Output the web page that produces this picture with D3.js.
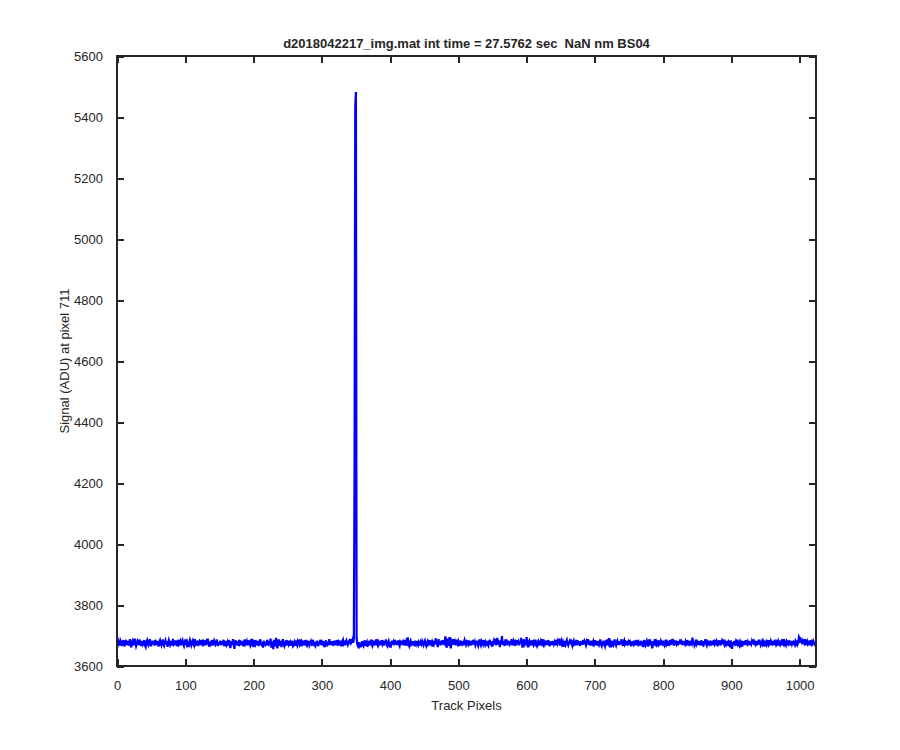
<!DOCTYPE html>
<html>
<head>
<meta charset="utf-8">
<script src="https://cdn.jsdelivr.net/npm/d3@7"></script>
<style>
  html, body { margin: 0; padding: 0; background: #fff; }
  svg { display: block; }
  text { font-family: "Liberation Sans", Arial, Helvetica, sans-serif; fill: #262626; }
</style>
</head>
<body>
<svg id="chart" width="900" height="750"></svg>
<script>
const titleText = "d2018042217_img.mat int time = 27.5762 sec  NaN nm BS04";
const xLabel = "Track Pixels";
const yLabel = "Signal (ADU) at pixel 711";
const xTicks = [0, 100, 200, 300, 400, 500, 600, 700, 800, 900, 1000];
const yTicks = [3600, 3800, 4000, 4200, 4400, 4600, 4800, 5000, 5200, 5400, 5600];
const xDomain = [0, 1024];
const yDomain = [3600, 5600];

const signal = [
3676,3670,3681,3674,3668,3683,3677,3666,3675,3685,3672,3664,3679,3686,3669,3675,3682,3667,3674,3688,3671,3661,3678,3683,3674,3668,3690,3676,3665,3672,3681,3675,
3669,3687,3679,3666,3674,3682,3671,3676,3685,3667,3662,3678,3684,3672,3668,3681,3688,3674,3665,3675,3683,3671,3679,3667,3686,3676,3669,3682,3672,3664,3678,3684,
3674,3668,3679,3687,3671,3666,3676,3683,3672,3681,3663,3674,3685,3678,3669,3675,3682,3667,3689,3672,3676,3668,3684,3674,3665,3679,3686,3671,3675,3681,3668,3676,
3683,3672,3666,3678,3687,3674,3669,3681,3676,3662,3671,3685,3679,3668,3675,3682,3672,3667,3688,3678,3671,3675,3683,3666,3674,3681,3676,3669,3686,3672,3665,3679,
3675,3684,3668,3678,3672,3690,3674,3664,3681,3671,3676,3685,3667,3675,3682,3672,3669,3679,3687,3674,3666,3678,3671,3683,3675,3668,3681,3674,3686,3665,3676,3672,
3682,3671,3678,3667,3685,3675,3659,3674,3681,3669,3688,3672,3656,3678,3684,3668,3675,3681,3666,3686,3672,3676,3669,3682,3674,3665,3679,3687,3671,3675,3681,3668,
3676,3684,3672,3667,3679,3674,3689,3669,3663,3678,3685,3671,3676,3668,3682,3674,3666,3681,3687,3672,3669,3678,3660,3683,3675,3671,3679,3667,3686,3676,3672,3681,
3668,3690,3660,3681,3672,3655,3686,3676,3665,3692,3669,3658,3679,3687,3667,3674,3682,3662,3678,3688,3671,3666,3681,3675,3685,3668,3676,3671,3683,3674,3667,3679,
3675,3669,3682,3672,3678,3666,3684,3674,3668,3681,3676,3671,3687,3672,3665,3679,3674,3683,3668,3676,3685,3671,3667,3678,3674,3682,3669,3675,3681,3672,3666,3686,
3676,3671,3679,3668,3675,3683,3672,3665,3681,3674,3686,3669,3676,3667,3682,3672,3678,3662,3684,3675,3671,3679,3668,3688,3674,3676,3669,3681,3672,3666,3683,3675,
3678,3668,3685,3674,3667,3679,3675,3683,3671,3664,3681,3686,3672,3676,3668,3679,3684,3674,3669,3678,3682,3672,3688,3675,3679,3686,3676,3690,4268,5432,5482,3692,
3671,3666,3678,3668,3675,3661,3674,3681,3669,3665,3676,3684,3667,3674,3679,3663,3672,3682,3668,3676,3686,3671,3666,3678,3674,3683,3668,3675,3688,3672,3667,3679,
3674,3682,3669,3678,3685,3671,3676,3667,3681,3674,3687,3669,3665,3676,3682,3672,3679,3660,3675,3683,3671,3678,3668,3686,3674,3681,3669,3676,3684,3672,3666,3679,
3675,3683,3671,3678,3668,3685,3674,3667,3681,3676,3694,3672,3666,3678,3683,3671,3675,3668,3681,3674,3665,3676,3671,3682,3674,3669,3679,3675,3667,3678,3672,3681,
3674,3668,3678,3683,3672,3666,3676,3681,3671,3675,3685,3668,3674,3679,3664,3676,3671,3682,3674,3691,3669,3678,3662,3688,3672,3681,3668,3675,3684,3671,3678,3685,
3668,3697,3672,3660,3690,3676,3666,3695,3674,3658,3683,3678,3669,3688,3672,3679,3668,3686,3675,3671,3681,3674,3666,3683,3676,3672,3681,3668,3678,3685,3674,3669,
3679,3675,3684,3671,3676,3667,3682,3674,3678,3669,3686,3672,3679,3668,3675,3683,3672,3666,3678,3687,3674,3668,3681,3676,3671,3685,3675,3669,3679,3674,3682,3672,
3667,3678,3686,3675,3671,3681,3664,3676,3683,3672,3689,3668,3675,3692,3671,3679,3674,3662,3684,3676,3698,3669,3681,3674,3666,3687,3672,3678,3668,3683,3675,3671,
3681,3672,3688,3668,3676,3683,3674,3666,3679,3675,3685,3671,3678,3668,3682,3674,3692,3676,3660,3681,3687,3671,3676,3668,3695,3674,3661,3679,3683,3672,3676,3668,
3684,3675,3669,3679,3674,3686,3671,3666,3678,3682,3672,3676,3668,3681,3675,3688,3671,3667,3679,3674,3683,3669,3678,3675,3685,3671,3665,3681,3674,3676,3669,3682,
3672,3678,3668,3686,3675,3671,3681,3674,3690,3667,3676,3683,3672,3678,3663,3682,3675,3669,3679,3685,3674,3668,3676,3681,3671,3687,3674,3667,3678,3683,3672,3676,
3668,3679,3675,3684,3671,3678,3666,3682,3674,3676,3669,3686,3672,3681,3675,3668,3679,3672,3688,3669,3678,3674,3667,3683,3675,3671,3681,3674,3685,3668,3676,3672,
3682,3674,3669,3678,3687,3671,3666,3681,3675,3683,3672,3665,3676,3686,3668,3679,3674,3691,3671,3676,3661,3682,3674,3669,3679,3687,3672,3667,3678,3683,3674,3676,
3669,3681,3672,3688,3675,3666,3678,3684,3671,3676,3668,3682,3674,3679,3669,3686,3672,3665,3681,3675,3671,3683,3674,3678,3668,3685,3675,3671,3679,3674,3667,3682,
3676,3671,3681,3662,3685,3674,3668,3678,3683,3672,3664,3679,3675,3687,3669,3676,3658,3682,3672,3678,3688,3669,3667,3679,3674,3684,3671,3676,3668,3681,3675,3672,
3683,3674,3668,3678,3686,3671,3676,3666,3681,3675,3685,3669,3678,3672,3689,3674,3667,3679,3676,3683,3671,3675,3668,3681,3674,3687,3672,3678,3669,3682,3674,3676,
3671,3681,3675,3685,3668,3678,3674,3666,3683,3676,3672,3693,3671,3679,3668,3675,3686,3672,3678,3669,3682,3674,3676,3667,3684,3675,3671,3681,3672,3678,3688,3674,
3668,3679,3675,3683,3672,3676,3667,3682,3674,3678,3669,3686,3671,3675,3681,3672,3665,3679,3676,3684,3668,3674,3681,3671,3687,3675,3669,3678,3672,3682,3674,3667,
3679,3675,3661,3684,3672,3656,3678,3669,3682,3674,3666,3681,3676,3686,3671,3675,3668,3679,3672,3683,3664,3676,3674,3681,3669,3685,3675,3671,3678,3668,3682,3674,
3676,3671,3681,3674,3687,3669,3678,3672,3682,3667,3675,3679,3671,3686,3676,3668,3674,3681,3672,3678,3664,3683,3675,3669,3679,3674,3685,3671,3676,3668,3681,3675,
3672,3682,3669,3678,3674,3686,3671,3676,3667,3681,3675,3683,3672,3678,3668,3679,3674,3688,3671,3675,3669,3681,3676,3672,3684,3668,3678,3674,3682,3671,3676,3679,
3674,3669,3681,3675,3684,3672,3678,3695,3690,3676,3686,3681,3671,3683,3678,3674,3688,3669,3675,3681,3672,3676,3668,3684,3675,3671,3679,3674,3682,3676,3672,3678
];

const svg = d3.select("#chart");
const L = 117, R = 816, T = 56, B = 666;
const x = d3.scaleLinear().domain(xDomain).range([L, R]);
const y = d3.scaleLinear().domain(yDomain).range([B, T]);
const axisColor = "#262626";
const tickLen = 7;

// data line
const line = d3.line().x((d, i) => x(i)).y(d => y(d));
svg.append("path")
  .datum(signal)
  .attr("d", line)
  .attr("fill", "none")
  .attr("stroke", "#0000ff")
  .attr("stroke-width", 2.2)
  .attr("stroke-linejoin", "miter");

// axes (MATLAB-style box with inward ticks on all sides)
function styleAxis(g) {
  g.select(".domain").remove();
  g.selectAll(".tick line").attr("stroke", axisColor).attr("stroke-width", 2).attr("shape-rendering", "crispEdges");
  g.selectAll(".tick text").attr("fill", axisColor)
    .style("font-size", "13px")
    .style("font-family", "'Liberation Sans', Arial, sans-serif");
}

svg.append("g").attr("transform", `translate(0,${B})`)
  .call(d3.axisBottom(x).tickValues(xTicks).tickFormat(d3.format("d")).tickSizeInner(-tickLen).tickSizeOuter(0).tickPadding(tickLen + 8))
  .call(styleAxis);
svg.append("g").attr("transform", `translate(0,${T})`)
  .call(d3.axisTop(x).tickValues(xTicks).tickFormat("").tickSizeInner(-tickLen).tickSizeOuter(0))
  .call(styleAxis);
svg.append("g").attr("transform", `translate(${L},0)`)
  .call(d3.axisLeft(y).tickValues(yTicks).tickFormat(d3.format("d")).tickSizeInner(-tickLen).tickSizeOuter(0).tickPadding(tickLen + 7))
  .call(styleAxis);
svg.append("g").attr("transform", `translate(${R},0)`)
  .call(d3.axisRight(y).tickValues(yTicks).tickFormat("").tickSizeInner(-tickLen).tickSizeOuter(0))
  .call(styleAxis);

svg.append("rect")
  .attr("x", L).attr("y", T).attr("width", R - L).attr("height", B - T)
  .attr("fill", "none").attr("stroke", axisColor).attr("stroke-width", 2)
  .attr("shape-rendering", "crispEdges");

// title and labels
svg.append("text").attr("x", (L + R) / 2).attr("y", 48)
  .attr("text-anchor", "middle").style("font-size", "13px").style("font-weight", "bold")
  .style("white-space", "pre").attr("xml:space", "preserve")
  .text(titleText);
svg.append("text").attr("x", (L + R) / 2).attr("y", 710)
  .attr("text-anchor", "middle").style("font-size", "13px")
  .text(xLabel);
svg.append("text").attr("transform", `translate(69,${(T + B) / 2}) rotate(-90)`)
  .attr("text-anchor", "middle").style("font-size", "13px")
  .text(yLabel);
</script>
</body>
</html>
